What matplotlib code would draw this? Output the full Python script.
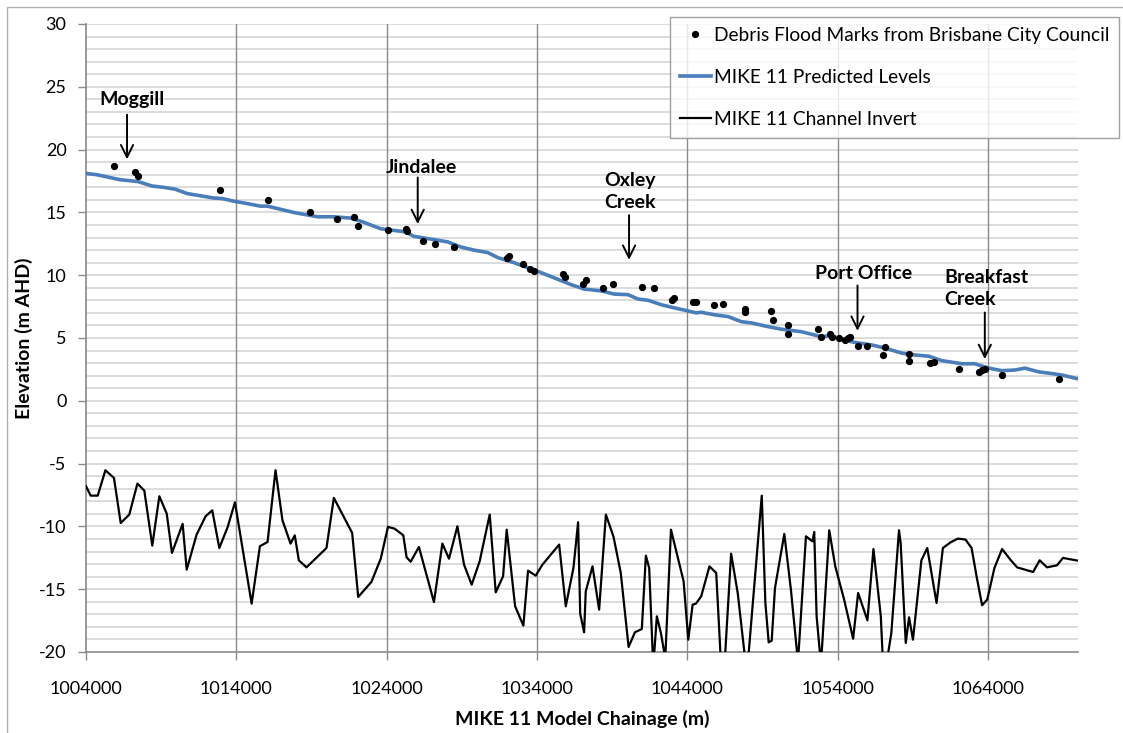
import matplotlib
matplotlib.use("Agg")
import matplotlib.pyplot as plt
from matplotlib.patches import Rectangle

plt.rcParams['font.family'] = ['Lato', 'DejaVu Sans']
plt.rcParams['axes.unicode_minus'] = False

# MIKE 11 predicted flood levels along the river
pred_chainage = [1004000, 1004730, 1006270, 1007130, 1007470, 1008400, 1009130, 1009930, 1010730, 1011730,
                 1012470, 1013070, 1013800, 1014730, 1015600, 1016070, 1016930, 1017800, 1019400, 1020470,
                 1021600, 1022400, 1023600, 1024930, 1025270, 1025800, 1028070, 1028930, 1029800, 1030730,
                 1031400, 1032470, 1034070, 1035130, 1036270, 1037130, 1038270, 1039130, 1040070, 1040730,
                 1041400, 1042270, 1043130, 1044070, 1044600, 1044930, 1045800, 1046730, 1047600, 1048270,
                 1049400, 1050270, 1051600, 1052270, 1052930, 1053600, 1054270, 1055400, 1056270, 1057130,
                 1058270, 1059130, 1060070, 1060930, 1062270, 1063130, 1064070, 1064930, 1065800, 1066470,
                 1067400, 1068070, 1068930, 1070000]
pred_level = [18.1, 18.0, 17.6, 17.5, 17.45, 17.1, 17.0, 16.85, 16.5, 16.3,
              16.15, 16.1, 15.9, 15.7, 15.5, 15.5, 15.25, 15.0, 14.65, 14.65,
              14.55, 14.25, 13.7, 13.5, 13.45, 13.1, 12.65, 12.25, 12.0, 11.8,
              11.4, 11.0, 10.3, 9.8, 9.25, 8.9, 8.75, 8.5, 8.45, 8.1,
              8.0, 7.65, 7.4, 7.15, 7.0, 7.05, 6.85, 6.7, 6.3, 6.2,
              5.9, 5.7, 5.5, 5.3, 5.1, 5.2, 4.85, 4.6, 4.45, 4.2,
              3.8, 3.65, 3.55, 3.2, 2.95, 2.95, 2.6, 2.4, 2.45, 2.6,
              2.3, 2.2, 2.05, 1.75]

# debris flood marks (Brisbane City Council)
debris_chainage = [1005870, 1007270, 1007470, 1012930, 1016130, 1018870, 1020670, 1021800, 1022070, 1024070,
                   1025270, 1025330, 1026400, 1027200, 1028470, 1032000, 1032130, 1033070, 1033530, 1033800,
                   1035730, 1035870, 1037070, 1037270, 1038400, 1039070, 1041000, 1041800, 1043000, 1043130,
                   1044400, 1044600, 1045800, 1046400, 1047870, 1047870, 1049600, 1049730, 1050730, 1050730,
                   1052670, 1052870, 1053530, 1053600, 1054070, 1054530, 1054730, 1054800, 1055330, 1055930,
                   1057000, 1057130, 1058730, 1058730, 1060130, 1060400, 1062070, 1063400, 1063600, 1063800,
                   1064930, 1068730]
debris_level = [18.7, 18.2, 17.9, 16.8, 16.0, 15.0, 14.5, 14.65, 13.95, 13.6,
                13.7, 13.55, 12.7, 12.5, 12.25, 11.4, 11.5, 10.9, 10.5, 10.3,
                10.1, 9.85, 9.3, 9.6, 9.0, 9.3, 9.05, 9.0, 8.05, 8.2,
                7.9, 7.9, 7.6, 7.7, 7.3, 7.05, 7.15, 6.45, 6.05, 5.35,
                5.7, 5.1, 5.3, 5.1, 5.0, 4.85, 5.0, 5.1, 4.4, 4.4,
                3.65, 4.3, 3.75, 3.2, 3.0, 3.1, 2.55, 2.3, 2.45, 2.5,
                2.05, 1.75]

# MIKE 11 channel invert
invert_chainage = [1004000, 1004310, 1004780, 1005290, 1005860, 1006310, 1006880, 1007420, 1007880, 1008410,
                   1008880, 1009370, 1009720, 1010430, 1010700, 1011360, 1011960, 1012400, 1012870, 1013420,
                   1013910, 1015020, 1015570, 1016080, 1016610, 1017070, 1017610, 1017890, 1018160, 1018670,
                   1020000, 1020490, 1021710, 1022110, 1022990, 1023610, 1024090, 1024530, 1025110, 1025330,
                   1025600, 1026150, 1027150, 1027710, 1028150, 1028710, 1029150, 1029660, 1030190, 1030860,
                   1031260, 1031750, 1031990, 1032550, 1033100, 1033410, 1033920, 1034370, 1035480, 1035920,
                   1036430, 1036740, 1036880, 1037140, 1037250, 1037700, 1038140, 1038590, 1039100, 1039580,
                   1040100, 1040520, 1040980, 1041250, 1041470, 1041740, 1041980, 1042250, 1042540, 1042920,
                   1043760, 1044070, 1044360, 1044580, 1044930, 1045480, 1045930, 1046360, 1046920, 1047360,
                   1047970, 1048960, 1049200, 1049420, 1049620, 1049840, 1050460, 1050900, 1051370, 1051900,
                   1052340, 1052450, 1052610, 1052900, 1053450, 1053850, 1054440, 1055040, 1055370, 1055990,
                   1056390, 1056880, 1057080, 1057580, 1058090, 1058200, 1058540, 1058760, 1059020, 1059580,
                   1059970, 1060590, 1061010, 1061520, 1062010, 1062520, 1062920, 1063250, 1063620, 1063960,
                   1064440, 1064950, 1065500, 1065950, 1067010, 1067450, 1067940, 1068600, 1069000, 1070000]
invert_level = [-6.8, -7.55, -7.55, -5.53, -6.14, -9.73, -9.06, -6.59, -7.15, -11.53,
                -7.6, -8.98, -12.11, -9.8, -13.44, -10.65, -9.19, -8.72, -11.72, -10.07,
                -8.08, -16.15, -11.58, -11.24, -5.53, -9.51, -11.37, -10.71, -12.7, -13.26,
                -11.72, -7.73, -10.52, -15.62, -14.42, -12.57, -10.04, -10.18, -10.71, -12.46,
                -12.81, -11.64, -16.02, -11.37, -12.57, -9.99, -13.04, -14.64, -12.78, -9.06,
                -15.25, -13.97, -10.26, -16.36, -17.9, -13.52, -13.92, -13.04, -11.45, -16.36,
                -13.31, -9.67, -16.95, -18.43, -15.17, -13.18, -16.63, -9.06, -10.84, -13.71,
                -19.6, -18.43, -18.17, -12.33, -13.31, -21.2, -17.16, -18.49, -20.5, -10.26,
                -14.37, -19.02, -16.23, -16.15, -15.57, -13.18, -13.71, -23.5, -12.17, -15.3,
                -21.8, -7.55, -16.1, -19.23, -19.1, -14.9, -10.6, -15.04, -20.8, -10.79,
                -11.19, -10.44, -17.16, -21.0, -10.31, -13.18, -15.83, -18.94, -15.3, -17.48,
                -11.8, -17.16, -22.3, -18.49, -10.31, -11.32, -19.28, -17.24, -19.02, -12.7,
                -11.72, -16.1, -11.72, -11.27, -10.97, -11.05, -11.72, -13.97, -16.28, -15.83,
                -13.31, -11.8, -12.65, -13.26, -13.63, -12.7, -13.26, -13.1, -12.51, -12.73]

x_ticks = [1004000, 1014000, 1024000, 1034000, 1044000, 1054000, 1064000]
y_ticks = [-20, -15, -10, -5, 0, 5, 10, 15, 20, 25, 30]

# (label, text x, text y, arrow x, arrow top, arrow tip)
locations = [
    ("Moggill", 1004870, 23.95, 1006730, 23.0, 19.0),
    ("Jindalee", 1023930, 18.6, 1026070, 18.0, 13.85),
    ("Oxley\nCreek", 1038470, 16.63, 1040130, 15.0, 11.0),
    ("Port Office", 1052530, 10.1, 1055330, 9.4, 5.35),
    ("Breakfast\nCreek", 1061130, 8.95, 1063800, 7.25, 3.1),
]

fig = plt.figure(figsize=(11.23, 7.33), dpi=100)
ax = fig.add_axes([86 / 1123, 1 - 652 / 733, (1078 - 86) / 1123, (652 - 24) / 733])

# chart border
fig.patches.append(Rectangle((7 / 1123, -0.05), 1.1, 1 - 7 / 733 + 0.05, transform=fig.transFigure,
                             fill=False, edgecolor="#b0b0b0", lw=1))

for v in range(-19, 31):
    ax.axhline(v, color="#d9d9d9", lw=1.3, zorder=0)
for x in x_ticks[1:]:
    ax.axvline(x, color="#8a8a8a", lw=1.0, zorder=0)

ax.plot(debris_chainage, debris_level, "o", color="black", ms=4.2, zorder=4,
        label="Debris Flood Marks from Brisbane City Council")
ax.plot(pred_chainage, pred_level, color="#4A7EBB", lw=2.6, zorder=3, label="MIKE 11 Predicted Levels")
ax.plot(invert_chainage, invert_level, color="black", lw=1.6, zorder=3, label="MIKE 11 Channel Invert")

for name, tx, ty, axx, ytop, ytip in locations:
    ax.text(tx, ty, name, fontsize=14, fontweight="bold", ha="left", va="center", linespacing=1.35, zorder=5)
    ax.annotate("", xy=(axx, ytip), xytext=(axx, ytop),
                arrowprops=dict(arrowstyle="->", color="black", lw=1.4, mutation_scale=22), zorder=5)

ax.set_xlim(1004000, 1070000)
ax.set_ylim(-20, 30)
ax.set_xticks(x_ticks)
ax.set_yticks(y_ticks)
ax.ticklabel_format(axis="x", style="plain", useOffset=False)
ax.tick_params(axis="both", labelsize=13, length=6, color="#8a8a8a", width=1)
ax.tick_params(axis="x", pad=15)
ax.tick_params(axis="y", pad=8)
for side in ["top", "right"]:
    ax.spines[side].set_visible(False)
for side in ["left", "bottom"]:
    ax.spines[side].set_color("#8a8a8a")
    ax.spines[side].set_linewidth(1.2)

ax.set_xlabel("MIKE 11 Model Chainage (m)", fontsize=14, fontweight="bold", labelpad=9)
ax.set_ylabel("Elevation (m AHD)", fontsize=14, fontweight="bold", labelpad=4)

leg = ax.legend(loc="upper right", bbox_to_anchor=(1119 / 1123, 1 - 17 / 733), bbox_transform=fig.transFigure,
                fontsize=13.8, frameon=True, fancybox=False, borderaxespad=0, handlelength=1.65,
                handletextpad=0.15, labelspacing=1.32, borderpad=0.5)
leg.get_frame().set_edgecolor("#8a8a8a")
leg.get_frame().set_linewidth(1)
leg.set_zorder(10)

fig.savefig("out.png", dpi=100)
